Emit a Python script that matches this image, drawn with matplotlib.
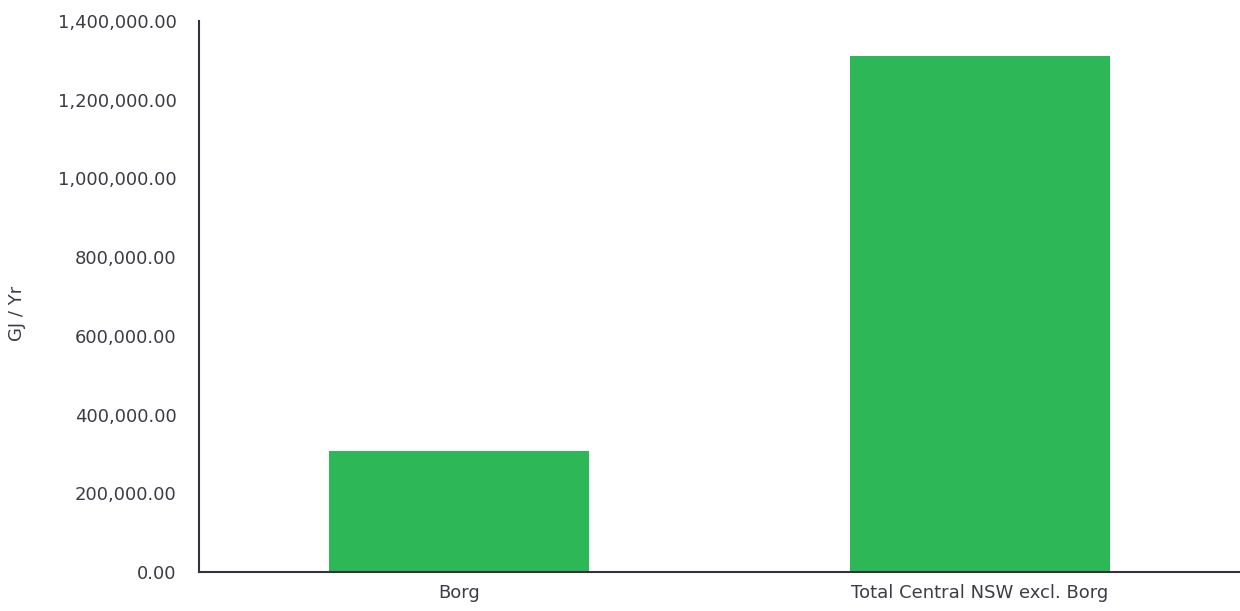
import matplotlib.pyplot as plt
from matplotlib.ticker import FuncFormatter, MultipleLocator

categories = ["Borg", "Total Central NSW excl. Borg"]
values = [307000, 1310000]

bar_color = "#2eb757"
text_color = "#3c3c46"

plt.rcParams['font.family'] = ['DejaVu Sans']

fig = plt.figure(figsize=(12.4, 6.11), dpi=100)
ax = fig.add_axes([199 / 1240, 39 / 611, 1 - 199 / 1240, 551 / 611])

ax.bar(range(len(categories)), values, width=0.5, color=bar_color)

ax.set_xlim(-0.5, 1.5)
ax.set_ylim(0, 1400000)
ax.yaxis.set_major_locator(MultipleLocator(200000))
ax.yaxis.set_major_formatter(FuncFormatter(lambda v, p: f"{v:,.2f}"))
ax.set_xticks(range(len(categories)))
ax.set_xticklabels(categories)

for s in ["top", "right"]:
    ax.spines[s].set_visible(False)
for s in ["left", "bottom"]:
    ax.spines[s].set_color("#333340")
    ax.spines[s].set_linewidth(1.5)

ax.tick_params(length=0, labelsize=13, colors=text_color)
ax.tick_params(axis="y", pad=16)
ax.tick_params(axis="x", pad=9)
ax.set_ylabel("GJ / Yr", fontsize=13, color=text_color)
ax.yaxis.set_label_coords(-0.166, 0.47)

fig.savefig("out.png", dpi=100)
